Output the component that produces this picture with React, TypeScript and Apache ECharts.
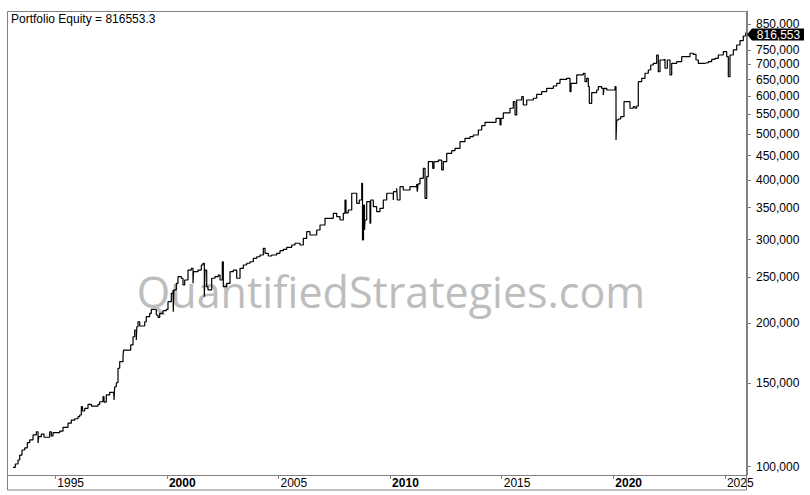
import React, { useEffect, useRef } from "react";
import * as echarts from "echarts";

const YEARS: number[] = [
  1993.105, 1993.208, 1993.329, 1993.405, 1993.508, 1993.629, 1993.746, 1993.853, 1994.001, 1994.149,
  1994.225, 1994.256, 1994.373, 1994.494, 1994.749, 1994.821, 1994.897, 1995.197, 1995.345, 1995.569,
  1995.717, 1995.869, 1996.017, 1996.093, 1996.165, 1996.219, 1996.317, 1996.465, 1996.613, 1996.913,
  1996.989, 1997.137, 1997.182, 1997.285, 1997.437, 1997.616, 1997.63, 1997.661, 1997.733, 1997.809,
  1997.885, 1998.033, 1998.056, 1998.378, 1998.481, 1998.557, 1998.629, 1998.651, 1998.705, 1998.781,
  1999.005, 1999.077, 1999.229, 1999.301, 1999.453, 1999.525, 1999.601, 1999.677, 1999.825, 1999.973,
  2000.049, 2000.197, 2000.273, 2000.287, 2000.309, 2000.421, 2000.497, 2000.645, 2000.721, 2000.797,
  2000.945, 2001.093, 2001.169, 2001.192, 2001.393, 2001.541, 2001.617, 2001.676, 2001.707, 2001.783,
  2001.841, 2002.007, 2002.155, 2002.303, 2002.379, 2002.482, 2002.527, 2002.679, 2002.827, 2002.975,
  2003.127, 2003.275, 2003.423, 2003.575, 2003.723, 2003.871, 2004.023, 2004.171, 2004.319, 2004.395,
  2004.543, 2004.695, 2004.919, 2005.067, 2005.215, 2005.367, 2005.591, 2005.739, 2005.963, 2006.111,
  2006.263, 2006.411, 2006.711, 2006.859, 2007.083, 2007.455, 2007.608, 2007.755, 2007.903, 2007.979,
  2008.024, 2008.127, 2008.28, 2008.504, 2008.62, 2008.728, 2008.763, 2008.808, 2008.853, 2008.875,
  2008.952, 2009.099, 2009.131, 2009.247, 2009.4, 2009.547, 2009.695, 2009.848, 2010.143, 2010.152,
  2010.296, 2010.323, 2010.444, 2010.591, 2010.891, 2011.192, 2011.219, 2011.25, 2011.34, 2011.487,
  2011.564, 2011.64, 2011.711, 2011.909, 2011.967, 2012.159, 2012.312, 2012.384, 2012.536, 2012.76,
  2012.908, 2013.132, 2013.356, 2013.58, 2013.728, 2013.952, 2014.104, 2014.252, 2014.745, 2014.924,
  2014.969, 2015.072, 2015.372, 2015.52, 2015.596, 2015.672, 2015.896, 2015.968, 2016.12, 2016.416,
  2016.568, 2016.792, 2017.016, 2017.312, 2017.464, 2017.612, 2017.912, 2018.06, 2018.105, 2018.36,
  2018.656, 2018.732, 2018.808, 2018.88, 2018.925, 2019.032, 2019.256, 2019.328, 2019.48, 2019.552,
  2019.583, 2019.704, 2020.076, 2020.121, 2020.152, 2020.224, 2020.331, 2020.479, 2020.748, 2020.896,
  2020.972, 2021.048, 2021.12, 2021.272, 2021.42, 2021.568, 2021.676, 2021.792, 2021.944, 2022.016,
  2022.092, 2022.24, 2022.316, 2022.419, 2022.54, 2022.616, 2022.84, 2023.065, 2023.436, 2023.584,
  2023.705, 2023.808, 2024.108, 2024.256, 2024.409, 2024.556, 2024.704, 2024.928, 2025.081, 2025.153,
  2025.228, 2025.376, 2025.529, 2025.676, 2025.824, 2025.932,
];

const EQUITY: number[] = [
  99700, 101300, 103300, 105800, 108400, 109500, 112300, 113800, 116600, 118400,
  112100, 115600, 117100, 115300, 118400, 116000, 117900, 118800, 121000, 123400,
  125300, 126100, 127400, 128400, 133700, 130900, 132600, 135200, 134100, 135200,
  136900, 140300, 136700, 141500, 143300, 143700, 138100, 147200, 150100, 161000,
  166200, 170300, 175800, 180200, 187500, 193700, 184600, 196800, 201600, 197500,
  201600, 206600, 210000, 214100, 213400, 208300, 206000, 210000, 212700, 214100,
  222100, 231300, 235100, 211600, 235100, 242800, 250700, 248800, 240800, 246700,
  258900, 261100, 242800, 256800, 258900, 265300, 267500, 227600, 258900, 238900,
  235100, 248800, 250700, 252700, 246700, 269500, 238900, 242800, 256800, 258900,
  248800, 261100, 265300, 267500, 269500, 274000, 276100, 278400, 287600, 280700,
  277100, 278400, 280700, 284300, 286200, 289000, 292200, 294700, 292200, 301800,
  311600, 306700, 314200, 321900, 332500, 340600, 335100, 329800, 340600, 363300,
  341200, 346100, 375300, 357500, 363300, 393900, 299400, 354600, 314200, 329800,
  360300, 324600, 363300, 351700, 343300, 349000, 363300, 375300, 363300, 378200,
  384500, 363300, 387500, 381300, 387500, 392600, 378200, 392600, 403500, 423500,
  366300, 406600, 437200, 423500, 437200, 440700, 420100, 437200, 455300, 461100,
  466500, 481700, 489600, 493400, 497500, 509700, 520400, 529000, 539300, 522100,
  539300, 553500, 566200, 584500, 548100, 589300, 598800, 575200, 589300, 594200,
  605800, 613400, 623600, 630600, 638900, 651300, 654500, 613400, 638900, 665100,
  670600, 643800, 654500, 628500, 580000, 610500, 618500, 628500, 623600, 603700,
  623600, 618500, 628500, 485600, 534900, 537500, 543500, 584500, 566200, 570500,
  566200, 572400, 643800, 654500, 670600, 681300, 698000, 703800, 732500, 675700,
  715100, 717500, 687000, 715100, 665100, 703800, 709300, 726600, 738700, 735100,
  715100, 703800, 705900, 709300, 717500, 721000, 732500, 744400, 726600, 659600,
  732500, 750600, 768800, 785000, 803100, 816553.3,
];

const Y_TICKS: number[] = [
  100000, 150000, 200000, 250000, 300000, 350000, 400000, 450000, 500000, 550000,
  600000, 650000, 700000, 750000, 850000,
];
const X_TICKS: number[] = [1995, 2000, 2005, 2010, 2015, 2020, 2025];
const BOLD_YEARS: number[] = [2000, 2010, 2020];

const X_MIN = 1992.88;
const X_MAX = 2025.99;
const Y_MIN = 96060;
const Y_MAX = 906300;

const TITLE = "Portfolio Equity";
const WATERMARK = "QuantifiedStrategies.com";
const FONT = '"Liberation Sans", Arial, sans-serif';

export default function App() {
  const ref = useRef<HTMLDivElement>(null);
  useEffect(() => {
    if (!ref.current) return;
    const chart = echarts.init(ref.current, undefined, { renderer: "svg" });
    const last = EQUITY[EQUITY.length - 1];
    const data = YEARS.map((y, i) => [y, Math.log10(EQUITY[i])]);
    const logTicks = Y_TICKS.map((v) => Math.log10(v));
    const fmtVal = (v: number) =>
      (Math.round(Math.pow(10, v) / 1000) * 1000).toLocaleString("en-US");
    chart.setOption({
      animation: false,
      backgroundColor: "#ffffff",
      grid: { left: 8, right: 63, top: 11, bottom: 20, containLabel: false },
      xAxis: {
        type: "value",
        min: X_MIN,
        max: X_MAX,
        splitLine: { show: false },
        axisLine: { show: true, lineStyle: { color: "#808080", width: 1 } },
        axisTick: {
          show: true,
          inside: false,
          length: 4,
          customValues: X_TICKS,
          lineStyle: { color: "#808080" },
        },
        axisLabel: {
          show: true,
          customValues: X_TICKS,
          align: "left",
          margin: 2,
          padding: [0, 0, 0, 2],
          color: "#000",
          fontSize: 12,
          fontFamily: FONT,
          formatter: (v: number) =>
            BOLD_YEARS.includes(Math.round(v)) ? `{b|${Math.round(v)}}` : `{n|${Math.round(v)}}`,
          rich: {
            b: { fontWeight: "bold", fontSize: 12, fontFamily: FONT, color: "#000" },
            n: { fontSize: 12, fontFamily: FONT, color: "#000" },
          },
        },
      },
      yAxis: {
        type: "value",
        position: "right",
        min: Math.log10(Y_MIN),
        max: Math.log10(Y_MAX),
        splitLine: { show: false },
        axisLine: { show: true, lineStyle: { color: "#808080", width: 1 } },
        axisTick: {
          show: true,
          inside: false,
          length: 4,
          customValues: logTicks,
          lineStyle: { color: "#808080" },
        },
        axisLabel: {
          show: true,
          customValues: logTicks,
          margin: 9,
          color: "#000",
          fontSize: 12,
          fontFamily: FONT,
          formatter: fmtVal,
        },
      },
      graphic: [
        {
          type: "rect",
          z: 10,
          silent: true,
          shape: { x: 7.5, y: 11.5, width: 739, height: 478.5 },
          style: { fill: "none", stroke: "#808080", lineWidth: 1 },
        },
        {
          type: "text",
          z: 0,
          silent: true,
          style: {
            text: WATERMARK,
            x: 391,
            y: 291,
            align: "center",
            verticalAlign: "middle",
            font: '43px "Open Sans", sans-serif',
            fill: "#bdbdbd",
          },
        },
        {
          type: "text",
          z: 10,
          silent: true,
          style: {
            text: `${TITLE} = ${last}`,
            x: 11,
            y: 13,
            align: "left",
            verticalAlign: "top",
            font: `12px ${FONT}`,
            fill: "#000",
          },
        },
      ],
      series: [
        {
          type: "line",
          data,
          step: "end",
          symbol: "none",
          z: 5,
          lineStyle: { color: "#000", width: 1.2 },
          markPoint: {
            silent: true,
            symbol: "path://M0,6 L5,0 L57,0 L57,12 L5,12 Z",
            symbolSize: [57, 12],
            symbolKeepAspect: false,
            symbolOffset: [28.5, 2],
            itemStyle: { color: "#000" },
            label: {
              show: true,
              position: "inside",
              offset: [3, 0],
              color: "#fff",
              fontSize: 12,
              fontFamily: FONT,
              formatter: () => Math.round(last).toLocaleString("en-US"),
            },
            data: [{ coord: [X_MAX, Math.log10(last)] }],
          },
        },
      ],
    });
    return () => chart.dispose();
  }, []);
  return (
    <div
      ref={ref}
      style={{ position: "fixed", left: 0, top: 0, width: 810, height: 495 }}
    />
  );
}
